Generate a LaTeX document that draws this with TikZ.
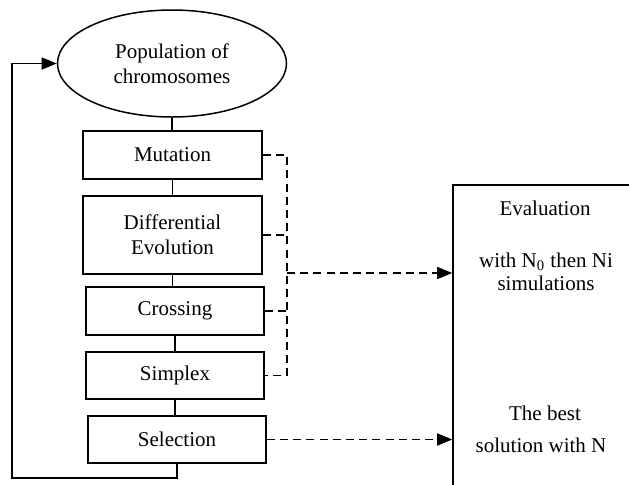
\documentclass[tikz,border=0pt]{standalone}
\usepackage{fontspec}
\setmainfont{Liberation Serif}
\usetikzlibrary{shapes.geometric}
\usetikzlibrary{arrows.meta,positioning}

\begin{document}
\begin{tikzpicture}[x=0.5pt,y=-0.5pt,line width=0.75pt,
        tip/.style={-{Triangle[length=7.5pt,width=6pt]}},
        dsh/.style={dash pattern=on 4pt off 2.6pt}]%
        \clip (0,0) rectangle (629,484); %%
        \begin{scope}[font=\fontsize{10.5}{12.3}\selectfont]
        \tikzstyle{every node}=[draw,align=center,inner sep=0pt] %%
        \node[ellipse,minimum width=114.5pt,minimum height=53.5pt] (pop) at (172,63.5) {Population of\\chromosomes}; %%
        \node[minimum width=89.5pt,minimum height=24pt] (mut) at (172.5,155) {Mutation}; %%
        \node[minimum width=89.5pt,minimum height=39pt] (diff) at (172.5,235) {Differential\\Evolution}; %%
        \node[minimum width=89pt,minimum height=24pt] (cross) at (175,311) {Crossing}; %%
        \node[minimum width=89pt,minimum height=23.5pt] (simp) at (175,375.5) {Simplex}; %%
        \node[minimum width=89pt,minimum height=23.5pt] (sel) at (177,439.5) {Selection}; %%
        \node[minimum width=103.5pt,minimum height=167.5pt] (eval) at (556.5,352.5) {}; %%
        \end{scope}
        \begin{scope}[font=\fontsize{10.5}{12.3}\selectfont]
        \tikzstyle{every node}=[inner sep=0pt] %%
        \node (evt) at (545,208) {Evaluation}; %%
        \node (evn) at (546,262) {with N\textsubscript{0} then Ni}; %%
        \node (evs) at (546,283) {simulations}; %%
        \node (bst) at (545,413) {The best}; %%
        \node (bsn) at (541,445) {solution with N}; %%
        \end{scope}
        \coordinate (bus) at (287,273); %%
        \coordinate (back) at (12,478); %%
        \draw (pop.south) -- (pop.south |- mut.north); %%
        \draw (mut.south) -- (diff.north); %%
        \draw (diff.south) -- (diff.south |- cross.north); %%
        \draw (simp.north -| cross.south) -- (cross.south); %%
        \draw (simp.south) -- (simp.south |- sel.north); %%
        \draw[tip] (sel.south) |- (back) |- (pop.west); %%
        \draw[dsh] (mut.east) -- (mut.east -| bus) -- (simp.east -| bus) -- (simp.east); %%
        \draw[dsh] (diff.east) -- (diff.east -| bus); %%
        \draw[dsh] (cross.east) -- (cross.east -| bus); %%
        \draw[dsh,tip] (bus) -- (bus -| eval.west); %%
        \draw[dsh,tip] (sel.east) -- (sel.east -| eval.west); %%
\end{tikzpicture}
\end{document}
